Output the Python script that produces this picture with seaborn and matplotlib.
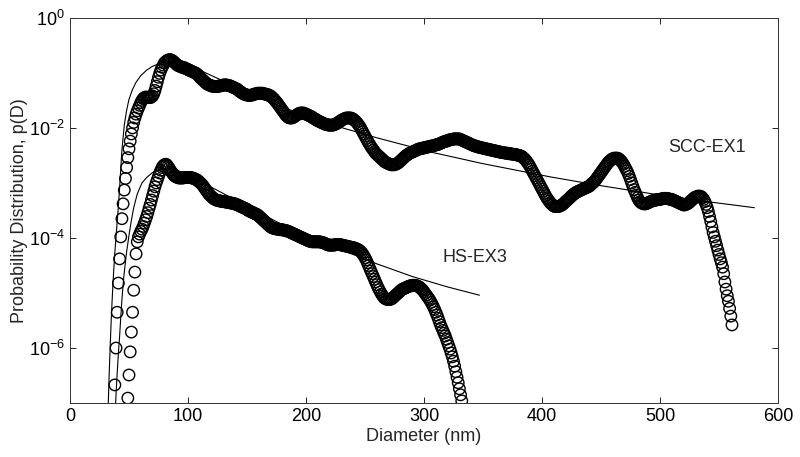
"""
Particle size distributions p(D) for SCC-EX1 and HS-EX3 with fitted curves
"""

import numpy as np
import pandas as pd
import matplotlib
matplotlib.use('Agg')
import matplotlib.pyplot as plt
import matplotlib.ticker as mticker
import seaborn as sns

# ── Data (log10 of p(D), 1 nm steps) ───────────────────────────────────────
scc_diam = np.arange(38, 562)
scc_logp = [
    -6.67, -6.00, -5.35, -4.82, -4.38, -3.98, -3.65, -3.38, -3.13, -2.92,   # 38
    -2.72, -2.54, -2.38, -2.24, -2.11, -2.00, -1.90, -1.82, -1.75, -1.69,   # 48
    -1.64, -1.59, -1.54, -1.50, -1.47, -1.45, -1.44, -1.44, -1.45, -1.45,   # 58
    -1.45, -1.44, -1.42, -1.38, -1.32, -1.24, -1.16, -1.08, -1.01, -0.95,   # 68
    -0.90, -0.86, -0.82, -0.80, -0.78, -0.77, -0.76, -0.76, -0.77, -0.78,   # 78
    -0.80, -0.82, -0.84, -0.86, -0.87, -0.88, -0.89, -0.90, -0.90, -0.91,   # 88
    -0.92, -0.93, -0.94, -0.95, -0.96, -0.97, -0.98, -0.99, -1.00, -1.01,   # 98
    -1.03, -1.05, -1.08, -1.10, -1.12, -1.14, -1.16, -1.18, -1.20, -1.21,   # 108
    -1.22, -1.23, -1.24, -1.24, -1.25, -1.25, -1.25, -1.25, -1.24, -1.24,   # 118
    -1.23, -1.23, -1.22, -1.22, -1.22, -1.22, -1.23, -1.23, -1.24, -1.25,   # 128
    -1.26, -1.27, -1.28, -1.29, -1.30, -1.32, -1.34, -1.35, -1.37, -1.38,   # 138
    -1.39, -1.40, -1.40, -1.41, -1.41, -1.41, -1.40, -1.40, -1.39, -1.38,   # 148
    -1.38, -1.37, -1.37, -1.37, -1.37, -1.37, -1.38, -1.38, -1.39, -1.39,   # 158
    -1.40, -1.41, -1.42, -1.44, -1.46, -1.48, -1.51, -1.53, -1.56, -1.59,   # 168
    -1.62, -1.65, -1.68, -1.71, -1.74, -1.77, -1.79, -1.81, -1.82, -1.82,   # 178
    -1.82, -1.81, -1.80, -1.78, -1.77, -1.75, -1.74, -1.73, -1.73, -1.73,   # 188
    -1.73, -1.74, -1.75, -1.76, -1.77, -1.78, -1.79, -1.80, -1.82, -1.83,   # 198
    -1.84, -1.86, -1.87, -1.88, -1.89, -1.90, -1.91, -1.92, -1.93, -1.94,   # 208
    -1.94, -1.95, -1.95, -1.95, -1.95, -1.95, -1.94, -1.93, -1.92, -1.91,   # 218
    -1.89, -1.88, -1.86, -1.85, -1.84, -1.83, -1.82, -1.82, -1.82, -1.82,   # 228
    -1.82, -1.83, -1.84, -1.86, -1.88, -1.90, -1.93, -1.96, -1.99, -2.03,   # 238
    -2.07, -2.11, -2.15, -2.19, -2.23, -2.27, -2.30, -2.34, -2.37, -2.40,   # 248
    -2.43, -2.46, -2.48, -2.50, -2.52, -2.54, -2.56, -2.58, -2.60, -2.62,   # 258
    -2.63, -2.64, -2.65, -2.66, -2.67, -2.67, -2.67, -2.67, -2.66, -2.65,   # 268
    -2.64, -2.62, -2.60, -2.58, -2.56, -2.54, -2.52, -2.50, -2.49, -2.47,   # 278
    -2.46, -2.45, -2.44, -2.43, -2.42, -2.41, -2.40, -2.39, -2.38, -2.38,   # 288
    -2.37, -2.37, -2.36, -2.36, -2.35, -2.35, -2.34, -2.34, -2.33, -2.33,   # 298
    -2.32, -2.32, -2.31, -2.30, -2.30, -2.29, -2.28, -2.27, -2.26, -2.25,   # 308
    -2.25, -2.24, -2.23, -2.22, -2.22, -2.21, -2.21, -2.20, -2.20, -2.20,   # 318
    -2.20, -2.20, -2.20, -2.21, -2.22, -2.23, -2.24, -2.25, -2.26, -2.27,   # 328
    -2.28, -2.29, -2.30, -2.31, -2.32, -2.33, -2.33, -2.34, -2.35, -2.35,   # 338
    -2.36, -2.36, -2.37, -2.37, -2.38, -2.38, -2.39, -2.39, -2.40, -2.40,   # 348
    -2.41, -2.41, -2.42, -2.42, -2.43, -2.43, -2.44, -2.44, -2.45, -2.45,   # 358
    -2.45, -2.46, -2.46, -2.46, -2.47, -2.47, -2.47, -2.48, -2.48, -2.48,   # 368
    -2.49, -2.49, -2.50, -2.50, -2.51, -2.52, -2.54, -2.56, -2.58, -2.61,   # 378
    -2.64, -2.67, -2.71, -2.75, -2.79, -2.83, -2.87, -2.91, -2.95, -2.99,   # 388
    -3.03, -3.07, -3.11, -3.15, -3.19, -3.23, -3.27, -3.30, -3.33, -3.36,   # 398
    -3.38, -3.40, -3.42, -3.43, -3.43, -3.43, -3.43, -3.42, -3.41, -3.40,   # 408
    -3.38, -3.36, -3.34, -3.32, -3.30, -3.28, -3.26, -3.24, -3.22, -3.20,   # 418
    -3.19, -3.17, -3.16, -3.15, -3.14, -3.13, -3.12, -3.11, -3.10, -3.09,   # 428
    -3.08, -3.07, -3.06, -3.04, -3.02, -3.00, -2.98, -2.96, -2.93, -2.90,   # 438
    -2.87, -2.84, -2.81, -2.78, -2.75, -2.72, -2.69, -2.66, -2.63, -2.61,   # 448
    -2.59, -2.57, -2.56, -2.55, -2.55, -2.55, -2.55, -2.56, -2.58, -2.60,   # 458
    -2.63, -2.66, -2.70, -2.74, -2.78, -2.83, -2.88, -2.94, -3.00, -3.06,   # 468
    -3.12, -3.17, -3.22, -3.27, -3.31, -3.34, -3.36, -3.37, -3.38, -3.38,   # 478
    -3.38, -3.37, -3.36, -3.35, -3.34, -3.33, -3.32, -3.32, -3.31, -3.31,   # 488
    -3.30, -3.30, -3.30, -3.29, -3.29, -3.28, -3.28, -3.28, -3.28, -3.29,   # 498
    -3.29, -3.30, -3.30, -3.31, -3.32, -3.33, -3.34, -3.35, -3.36, -3.37,   # 508
    -3.38, -3.39, -3.40, -3.40, -3.39, -3.38, -3.37, -3.35, -3.33, -3.31,   # 518
    -3.29, -3.27, -3.26, -3.25, -3.24, -3.24, -3.24, -3.25, -3.27, -3.30,   # 528
    -3.34, -3.39, -3.45, -3.52, -3.61, -3.70, -3.80, -3.90, -3.98, -4.06,   # 538
    -4.14, -4.22, -4.30, -4.38, -4.45, -4.53, -4.65, -4.80, -4.93, -5.05,   # 548
    -5.15, -5.28, -5.42, -5.58,                                             # 558
]

hs_diam = np.arange(49, 333)
hs_logp = [
    -6.91, -6.49, -6.07, -5.71, -5.35, -4.95, -4.62, -4.29, -4.07, -3.98,   # 49
    -3.93, -3.88, -3.84, -3.79, -3.73, -3.67, -3.61, -3.54, -3.46, -3.39,   # 59
    -3.31, -3.23, -3.15, -3.07, -3.00, -2.94, -2.88, -2.82, -2.77, -2.72,   # 69
    -2.69, -2.67, -2.66, -2.67, -2.70, -2.73, -2.77, -2.80, -2.83, -2.86,   # 79
    -2.88, -2.89, -2.90, -2.91, -2.91, -2.91, -2.91, -2.91, -2.90, -2.90,   # 89
    -2.90, -2.90, -2.90, -2.90, -2.91, -2.91, -2.92, -2.93, -2.94, -2.95,   # 99
    -2.97, -2.99, -3.01, -3.03, -3.06, -3.09, -3.12, -3.15, -3.18, -3.21,   # 109
    -3.23, -3.25, -3.27, -3.29, -3.30, -3.31, -3.32, -3.32, -3.33, -3.33,   # 119
    -3.34, -3.34, -3.34, -3.35, -3.35, -3.35, -3.36, -3.36, -3.37, -3.37,   # 129
    -3.38, -3.38, -3.39, -3.40, -3.41, -3.42, -3.43, -3.44, -3.45, -3.46,   # 139
    -3.47, -3.48, -3.50, -3.51, -3.52, -3.53, -3.54, -3.55, -3.56, -3.57,   # 149
    -3.58, -3.60, -3.62, -3.64, -3.66, -3.68, -3.70, -3.72, -3.74, -3.76,   # 159
    -3.78, -3.80, -3.81, -3.82, -3.83, -3.83, -3.84, -3.84, -3.84, -3.85,   # 169
    -3.85, -3.85, -3.86, -3.86, -3.87, -3.87, -3.88, -3.89, -3.90, -3.91,   # 179
    -3.92, -3.93, -3.94, -3.95, -3.96, -3.97, -3.98, -3.99, -4.00, -4.01,   # 189
    -4.02, -4.03, -4.04, -4.05, -4.06, -4.06, -4.07, -4.07, -4.07, -4.07,   # 199
    -4.07, -4.07, -4.07, -4.07, -4.08, -4.08, -4.09, -4.10, -4.11, -4.12,   # 209
    -4.13, -4.13, -4.13, -4.13, -4.13, -4.13, -4.12, -4.12, -4.12, -4.12,   # 219
    -4.12, -4.13, -4.13, -4.14, -4.14, -4.15, -4.15, -4.16, -4.16, -4.17,   # 229
    -4.17, -4.18, -4.18, -4.19, -4.20, -4.21, -4.22, -4.24, -4.26, -4.29,   # 239
    -4.32, -4.36, -4.40, -4.45, -4.50, -4.55, -4.60, -4.65, -4.70, -4.75,   # 249
    -4.80, -4.85, -4.90, -4.94, -4.98, -5.02, -5.05, -5.08, -5.10, -5.11,   # 259
    -5.12, -5.12, -5.12, -5.11, -5.10, -5.08, -5.06, -5.04, -5.02, -5.00,   # 269
    -4.98, -4.96, -4.94, -4.93, -4.92, -4.91, -4.90, -4.89, -4.88, -4.87,   # 279
    -4.87, -4.86, -4.86, -4.86, -4.86, -4.87, -4.88, -4.89, -4.91, -4.93,   # 289
    -4.95, -4.98, -5.01, -5.04, -5.07, -5.10, -5.13, -5.17, -5.21, -5.25,   # 299
    -5.30, -5.35, -5.40, -5.46, -5.52, -5.58, -5.63, -5.68, -5.73, -5.78,   # 309
    -5.84, -5.90, -5.96, -6.02, -6.09, -6.16, -6.24, -6.33, -6.43, -6.53,   # 319
    -6.63, -6.74, -6.85, -6.96,                                             # 329
]

# fitted curves
scc_fit_diam = [32, 33, 34, 35, 36, 37, 38, 39, 40, 41, 42, 43, 44, 46, 48, 50,
                53, 56, 60, 65, 70, 76, 82, 88, 95, 105, 120, 140, 160, 180,
                200, 231, 260, 308, 350, 407, 450, 500, 540, 580]
scc_fit_logp = [-7.35, -6.6, -6.0, -5.45, -5.0, -4.6, -4.27, -3.98, -3.7, -3.43,
                -3.1, -2.75, -2.4, -1.95, -1.68, -1.48, -1.3, -1.17, -1.05, -0.95,
                -0.88, -0.83, -0.8, -0.8, -0.82, -0.9, -1.05, -1.25, -1.45, -1.62,
                -1.78, -2.0, -2.18, -2.45, -2.65, -2.89, -3.05, -3.22, -3.34, -3.45]

hs_fit_diam = [38, 39, 40, 41, 42, 43, 44, 45, 46, 48, 50, 52, 54, 57, 61, 65,
               70, 76, 82, 90, 100, 120, 150, 180, 210, 240, 260, 290, 320, 347]
hs_fit_logp = [-7.3, -6.85, -6.45, -6.1, -5.8, -5.45, -5.12, -4.85, -4.62, -4.25,
               -3.95, -3.68, -3.45, -3.2, -3.0, -2.9, -2.81, -2.75, -2.73, -2.76,
               -2.86, -3.08, -3.42, -3.76, -4.05, -4.3, -4.47, -4.7, -4.89, -5.04]

labels = {'SCC-EX1': (507, -2.36), 'HS-EX3': (316, -4.35)}

scc = pd.DataFrame({'D': scc_diam, 'p': 10.0 ** np.array(scc_logp)})
hs = pd.DataFrame({'D': hs_diam, 'p': 10.0 ** np.array(hs_logp)})
scc_fit = pd.DataFrame({'D': scc_fit_diam, 'p': 10.0 ** np.array(scc_fit_logp)})
hs_fit = pd.DataFrame({'D': hs_fit_diam, 'p': 10.0 ** np.array(hs_fit_logp)})

# ── Style ──────────────────────────────────────────────────────────────────
sns.set_theme(style='ticks')
plt.rcParams['font.family'] = ['Liberation Sans', 'DejaVu Sans']
plt.rcParams['mathtext.fontset'] = 'custom'
plt.rcParams['mathtext.rm'] = 'Liberation Sans'
plt.rcParams['font.size'] = 13

fig = plt.figure(figsize=(8, 4.57), dpi=100)
ax = fig.add_axes([0.0875, 0.118, 0.885, 0.843])

for d in (scc, hs):
    sns.scatterplot(data=d, x='D', y='p', ax=ax, s=68, marker='o',
                    facecolor='none', edgecolor='black', linewidth=1.0,
                    legend=False, zorder=2)
for d in (scc_fit, hs_fit):
    sns.lineplot(data=d, x='D', y='p', ax=ax, color='black', lw=0.8,
                 estimator=None, sort=False, zorder=3)

for txt, (x, lp) in labels.items():
    ax.text(x, 10 ** lp, txt, fontsize=13, ha='left', va='center')

ax.set_yscale('log')
ax.set_xlim(0, 600)
ax.set_ylim(1e-7, 1)
ax.set_xticks([0, 100, 200, 300, 400, 500, 600])
ax.set_yticks([1e-6, 1e-4, 1e-2, 1])
ax.yaxis.set_minor_locator(mticker.NullLocator())
ax.tick_params(direction='in', top=True, right=True, length=4, width=0.6,
               labelsize=13, colors='black')
for s in ax.spines.values():
    s.set_linewidth(0.7)
    s.set_color('#333333')

ax.set_xlabel('Diameter (nm)', fontsize=13, labelpad=2)
ax.set_ylabel('Probability Distribution, p(D)', fontsize=13, labelpad=1)

plt.savefig('out.png', dpi=100)
plt.close()
